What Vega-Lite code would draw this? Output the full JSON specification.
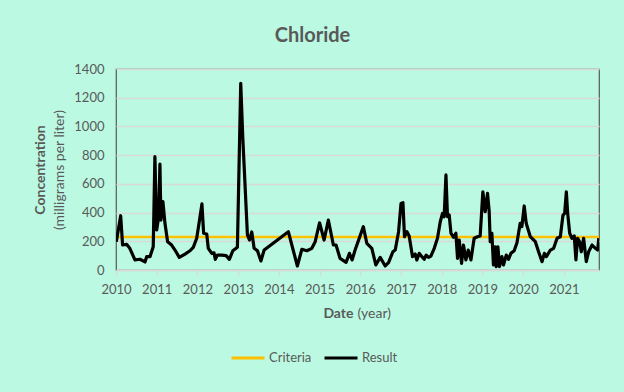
{
  "$schema": "https://vega.github.io/schema/vega-lite/v6.json",
  "width": 483,
  "height": 201,
  "autosize": {"type": "none"},
  "padding": {"left": 116, "top": 69, "right": 25, "bottom": 122},
  "background": "#BBF9E2",
  "config": {
    "font": "Lato",
    "view": {"stroke": "#595959", "strokeWidth": 1.2},
    "axis": {"labelColor": "#595959", "titleColor": "#595959", "labelFontSize": 13, "titleFontSize": 14},
    "legend": {"labelColor": "#595959", "labelFontSize": 13, "symbolStrokeWidth": 3}
  },
  "title": {"text": "Chloride", "fontSize": 20, "fontWeight": "bold", "color": "#595959", "anchor": "middle", "frame": "group", "dx": -45, "offset": 17},
  "datasets": {
    "criteria": [
      {"d": "2010-01-01", "v": 230, "s": "Criteria"},
      {"d": "2021-11-12", "v": 230, "s": "Criteria"}
    ],
    "result": [
      {"d":"2010-01-04","v":197,"s":"Result"},{"d":"2010-02-12","v":378,"s":"Result"},{"d":"2010-03-01","v":174,"s":"Result"},{"d":"2010-04-06","v":179,"s":"Result"},{"d":"2010-05-05","v":151,"s":"Result"},{"d":"2010-06-20","v":70,"s":"Result"},{"d":"2010-08-04","v":75,"s":"Result"},{"d":"2010-09-18","v":56,"s":"Result"},{"d":"2010-10-03","v":93,"s":"Result"},{"d":"2010-11-02","v":93,"s":"Result"},{"d":"2010-12-01","v":162,"s":"Result"},{"d":"2010-12-16","v":789,"s":"Result"},
      {"d":"2011-01-01","v":279,"s":"Result"},{"d":"2011-01-19","v":371,"s":"Result"},{"d":"2011-01-30","v":738,"s":"Result"},{"d":"2011-02-08","v":348,"s":"Result"},{"d":"2011-02-26","v":476,"s":"Result"},{"d":"2011-03-16","v":327,"s":"Result"},{"d":"2011-04-09","v":197,"s":"Result"},{"d":"2011-05-15","v":174,"s":"Result"},{"d":"2011-06-14","v":139,"s":"Result"},{"d":"2011-07-23","v":88,"s":"Result"},{"d":"2011-09-12","v":111,"s":"Result"},{"d":"2011-10-27","v":134,"s":"Result"},{"d":"2011-11-25","v":158,"s":"Result"},{"d":"2011-12-26","v":221,"s":"Result"},
      {"d":"2012-01-18","v":336,"s":"Result"},{"d":"2012-02-11","v":460,"s":"Result"},{"d":"2012-02-26","v":256,"s":"Result"},{"d":"2012-03-25","v":251,"s":"Result"},{"d":"2012-04-08","v":151,"s":"Result"},{"d":"2012-05-09","v":116,"s":"Result"},{"d":"2012-05-29","v":120,"s":"Result"},{"d":"2012-06-10","v":74,"s":"Result"},{"d":"2012-06-28","v":104,"s":"Result"},{"d":"2012-08-07","v":104,"s":"Result"},{"d":"2012-09-15","v":100,"s":"Result"},{"d":"2012-10-14","v":74,"s":"Result"},{"d":"2012-11-14","v":134,"s":"Result"},{"d":"2012-12-25","v":158,"s":"Result"},
      {"d":"2013-01-24","v":1300,"s":"Result"},{"d":"2013-02-11","v":928,"s":"Result"},{"d":"2013-03-25","v":244,"s":"Result"},{"d":"2013-04-12","v":209,"s":"Result"},{"d":"2013-05-03","v":265,"s":"Result"},{"d":"2013-05-24","v":151,"s":"Result"},{"d":"2013-06-23","v":134,"s":"Result"},{"d":"2013-07-24","v":63,"s":"Result"},{"d":"2013-08-22","v":139,"s":"Result"},{"d":"2013-09-30","v":162,"s":"Result"},
      {"d":"2014-03-27","v":267,"s":"Result"},{"d":"2014-06-16","v":28,"s":"Result"},{"d":"2014-07-26","v":144,"s":"Result"},{"d":"2014-09-09","v":134,"s":"Result"},{"d":"2014-10-24","v":151,"s":"Result"},{"d":"2014-11-23","v":197,"s":"Result"},
      {"d":"2015-01-01","v":329,"s":"Result"},{"d":"2015-02-11","v":209,"s":"Result"},{"d":"2015-03-21","v":348,"s":"Result"},{"d":"2015-05-05","v":174,"s":"Result"},{"d":"2015-05-29","v":174,"s":"Result"},{"d":"2015-07-04","v":81,"s":"Result"},{"d":"2015-08-27","v":53,"s":"Result"},{"d":"2015-09-26","v":116,"s":"Result"},{"d":"2015-10-20","v":70,"s":"Result"},{"d":"2015-11-16","v":139,"s":"Result"},
      {"d":"2016-01-29","v":302,"s":"Result"},{"d":"2016-02-29","v":186,"s":"Result"},{"d":"2016-04-14","v":151,"s":"Result"},{"d":"2016-05-20","v":35,"s":"Result"},{"d":"2016-06-28","v":88,"s":"Result"},{"d":"2016-08-12","v":28,"s":"Result"},{"d":"2016-09-11","v":51,"s":"Result"},{"d":"2016-10-20","v":127,"s":"Result"},{"d":"2016-11-10","v":139,"s":"Result"},{"d":"2016-12-10","v":267,"s":"Result"},
      {"d":"2017-01-01","v":464,"s":"Result"},{"d":"2017-01-18","v":469,"s":"Result"},{"d":"2017-02-01","v":232,"s":"Result"},{"d":"2017-02-23","v":267,"s":"Result"},{"d":"2017-03-15","v":237,"s":"Result"},{"d":"2017-04-14","v":93,"s":"Result"},{"d":"2017-05-08","v":111,"s":"Result"},{"d":"2017-05-23","v":70,"s":"Result"},{"d":"2017-06-13","v":116,"s":"Result"},{"d":"2017-07-07","v":93,"s":"Result"},{"d":"2017-07-28","v":75,"s":"Result"},{"d":"2017-08-15","v":104,"s":"Result"},{"d":"2017-09-05","v":88,"s":"Result"},{"d":"2017-09-26","v":97,"s":"Result"},{"d":"2017-10-26","v":151,"s":"Result"},{"d":"2017-11-24","v":221,"s":"Result"},{"d":"2017-12-19","v":336,"s":"Result"},
      {"d":"2018-01-08","v":395,"s":"Result"},{"d":"2018-01-23","v":371,"s":"Result"},{"d":"2018-02-08","v":662,"s":"Result"},{"d":"2018-02-22","v":371,"s":"Result"},{"d":"2018-03-09","v":383,"s":"Result"},{"d":"2018-03-25","v":256,"s":"Result"},{"d":"2018-04-17","v":228,"s":"Result"},{"d":"2018-05-08","v":256,"s":"Result"},{"d":"2018-05-23","v":81,"s":"Result"},{"d":"2018-06-07","v":209,"s":"Result"},{"d":"2018-06-28","v":46,"s":"Result"},{"d":"2018-07-15","v":174,"s":"Result"},{"d":"2018-08-06","v":70,"s":"Result"},{"d":"2018-08-27","v":139,"s":"Result"},{"d":"2018-09-20","v":70,"s":"Result"},{"d":"2018-10-19","v":221,"s":"Result"},{"d":"2018-11-18","v":232,"s":"Result"},{"d":"2018-12-12","v":237,"s":"Result"},
      {"d":"2019-01-05","v":545,"s":"Result"},{"d":"2019-01-26","v":406,"s":"Result"},{"d":"2019-02-16","v":534,"s":"Result"},{"d":"2019-03-03","v":406,"s":"Result"},{"d":"2019-03-12","v":197,"s":"Result"},{"d":"2019-03-27","v":256,"s":"Result"},{"d":"2019-04-10","v":35,"s":"Result"},{"d":"2019-04-26","v":162,"s":"Result"},{"d":"2019-05-05","v":23,"s":"Result"},{"d":"2019-05-20","v":162,"s":"Result"},{"d":"2019-06-03","v":23,"s":"Result"},{"d":"2019-06-25","v":93,"s":"Result"},{"d":"2019-07-09","v":35,"s":"Result"},{"d":"2019-08-03","v":104,"s":"Result"},{"d":"2019-08-23","v":74,"s":"Result"},{"d":"2019-09-14","v":116,"s":"Result"},{"d":"2019-10-13","v":134,"s":"Result"},{"d":"2019-11-07","v":190,"s":"Result"},{"d":"2019-12-06","v":325,"s":"Result"},{"d":"2019-12-21","v":302,"s":"Result"},
      {"d":"2020-01-11","v":446,"s":"Result"},{"d":"2020-01-29","v":325,"s":"Result"},{"d":"2020-03-06","v":232,"s":"Result"},{"d":"2020-04-20","v":197,"s":"Result"},{"d":"2020-05-19","v":127,"s":"Result"},{"d":"2020-06-19","v":58,"s":"Result"},{"d":"2020-07-10","v":116,"s":"Result"},{"d":"2020-07-28","v":93,"s":"Result"},{"d":"2020-09-02","v":139,"s":"Result"},{"d":"2020-10-01","v":151,"s":"Result"},{"d":"2020-11-01","v":221,"s":"Result"},{"d":"2020-11-30","v":232,"s":"Result"},{"d":"2020-12-24","v":383,"s":"Result"},
      {"d":"2021-01-08","v":395,"s":"Result"},{"d":"2021-01-23","v":545,"s":"Result"},{"d":"2021-02-04","v":395,"s":"Result"},{"d":"2021-02-22","v":256,"s":"Result"},{"d":"2021-03-14","v":221,"s":"Result"},{"d":"2021-04-04","v":237,"s":"Result"},{"d":"2021-04-19","v":70,"s":"Result"},{"d":"2021-05-04","v":221,"s":"Result"},{"d":"2021-05-22","v":197,"s":"Result"},{"d":"2021-06-06","v":127,"s":"Result"},{"d":"2021-06-27","v":221,"s":"Result"},{"d":"2021-07-21","v":58,"s":"Result"},{"d":"2021-08-11","v":127,"s":"Result"},{"d":"2021-09-11","v":174,"s":"Result"},{"d":"2021-10-11","v":151,"s":"Result"},{"d":"2021-10-31","v":139,"s":"Result"},{"d":"2021-11-10","v":221,"s":"Result"}
    ]
  },
  "layer": [
    {
      "data": {"name": "criteria"},
      "mark": {"type": "line", "strokeWidth": 2.5, "clip": true},
      "encoding": {
        "x": {"field": "d", "type": "temporal", "scale": {"domain": ["2010-01-01", "2021-11-12"]},
          "axis": {"orient": "bottom", "labels": false, "ticks": false, "domain": false, "grid": false, "title": "Date", "titleFontWeight": "bold", "titleAlign": "right", "titleAnchor": null, "titleX": 237, "titleY": 43, "titleBaseline": "middle"}},
        "y": {"field": "v", "type": "quantitative", "scale": {"domain": [0, 1400]},
          "axis": {"orient": "left", "labels": false, "ticks": false, "domain": false, "grid": false, "title": "Concentration", "titleFontWeight": "bold", "titleX": -76, "titleY": 100.5, "titleAngle": -90, "titleAlign": "center", "titleBaseline": "middle"}},
        "color": {"field": "s", "type": "nominal", "scale": {"domain": ["Criteria", "Result"], "range": ["#FFC000", "#000000"]},
          "legend": {"title": null, "orient": "none", "direction": "horizontal", "legendX": 114, "legendY": 271, "symbolType": "stroke", "symbolSize": 1089, "labelOffset": 3, "columnPadding": 6}}
      }
    },
    {
      "data": {"name": "result"},
      "mark": {"type": "line", "strokeWidth": 3.2, "strokeJoin": "round", "clip": true},
      "encoding": {
        "x": {"field": "d", "type": "temporal", "scale": {"domain": ["2010-01-01", "2021-11-12"]},
          "axis": {"orient": "bottom", "format": "%Y", "tickCount": {"interval": "year", "step": 1}, "grid": false, "domainColor": "#D9D9D9", "domainWidth": 1.5, "tickColor": "#D9D9D9", "tickWidth": 1.5, "tickSize": 5, "labelPadding": 8, "labelFlush": false, "title": "(year)", "titleFontWeight": "normal", "titleAlign": "left", "titleAnchor": null, "titleX": 241, "titleY": 43, "titleBaseline": "middle"}},
        "y": {"field": "v", "type": "quantitative", "scale": {"domain": [0, 1400]},
          "axis": {"orient": "left", "values": [0, 200, 400, 600, 800, 1000, 1200, 1400], "format": "d", "ticks": false, "tickSize": 0, "domain": false, "grid": true, "gridColor": "#D9D9D9", "gridWidth": 1.5, "labelPadding": 12, "title": "(milligrams per liter)", "titleFontWeight": "normal", "titleX": -57, "titleY": 100.5, "titleAngle": -90, "titleAlign": "center", "titleBaseline": "middle"}},
        "color": {"field": "s", "type": "nominal", "scale": {"domain": ["Criteria", "Result"], "range": ["#FFC000", "#000000"]}}
      }
    }
  ],
  "resolve": {"scale": {"x": "independent", "y": "independent"}}
}
